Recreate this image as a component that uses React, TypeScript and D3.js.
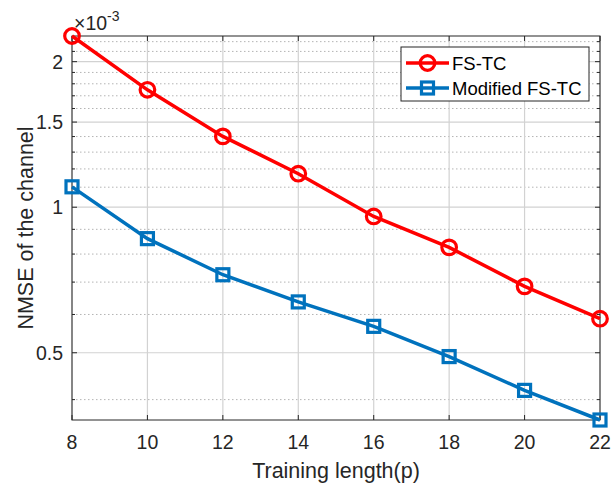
import React, { useEffect, useRef } from "react";
import * as d3 from "d3";

// training length on the x axis
const trainingLength = [8, 10, 12, 14, 16, 18, 20, 22];
// NMSE values, in units of 1e-3
const fsTC = [2.26, 1.749, 1.401, 1.173, 0.957, 0.826, 0.686, 0.588];
const modifiedFsTC = [1.102, 0.861, 0.725, 0.637, 0.567, 0.491, 0.418, 0.363];

const xTicks = [8, 10, 12, 14, 16, 18, 20, 22];
const yTicks = [0.5, 1, 1.5, 2];
const yMinorTicks = [0.4, 0.6, 0.7, 0.8, 0.9, 1.1, 1.2, 1.3, 1.4, 1.6, 1.7, 1.8, 1.9, 2.1, 2.2];
const seriesNames = ["FS-TC", "Modified FS-TC"];

function App() {
  const ref = useRef<SVGSVGElement>(null);

  useEffect(() => {
    const width = 612;
    const height = 484;
    const m = { left: 72, right: 12, top: 36, bottom: 64 };
    const font = "'Liberation Sans', Arial, Helvetica, sans-serif";
    const axisColor = "#262626";

    const svg = d3.select(ref.current);
    svg.selectAll("*").remove();
    svg.attr("width", width).attr("height", height);

    svg.append("rect").attr("width", width).attr("height", height).attr("fill", "#fff");

    const x = d3
      .scaleLinear()
      .domain([d3.min(trainingLength)!, d3.max(trainingLength)!])
      .range([m.left, width - m.right]);

    const yMin = d3.min(modifiedFsTC)!;
    const yMax = d3.max(fsTC)!;
    const y = d3
      .scaleLog()
      .domain([yMin, yMax])
      .range([height - m.bottom, m.top]);

    const [x0, x1] = x.range();
    const [y0, y1] = y.range();

    // minor grid (dotted)
    svg
      .append("g")
      .selectAll("line")
      .data(yMinorTicks)
      .join("line")
      .attr("x1", x0)
      .attr("x2", x1)
      .attr("y1", (d) => y(d))
      .attr("y2", (d) => y(d))
      .attr("stroke", "#b4b4b4")
      .attr("stroke-width", 1)
      .attr("stroke-dasharray", "1.5 2.5");

    // major grid
    const grid = svg.append("g").attr("stroke", "#d2d2d2").attr("stroke-width", 1.2);
    grid
      .selectAll(".gy")
      .data(yTicks)
      .join("line")
      .attr("class", "gy")
      .attr("x1", x0)
      .attr("x2", x1)
      .attr("y1", (d) => y(d))
      .attr("y2", (d) => y(d));
    grid
      .selectAll(".gx")
      .data(xTicks)
      .join("line")
      .attr("class", "gx")
      .attr("x1", (d) => x(d))
      .attr("x2", (d) => x(d))
      .attr("y1", y0)
      .attr("y2", y1);

    // box
    svg
      .append("rect")
      .attr("x", x0)
      .attr("y", y1)
      .attr("width", x1 - x0)
      .attr("height", y0 - y1)
      .attr("fill", "none")
      .attr("stroke", axisColor)
      .attr("stroke-width", 1);

    // tick marks (inside)
    const ticks = svg.append("g").attr("stroke", axisColor).attr("stroke-width", 1);
    xTicks.forEach((t) => {
      ticks.append("line").attr("x1", x(t)).attr("x2", x(t)).attr("y1", y0).attr("y2", y0 - 5);
      ticks.append("line").attr("x1", x(t)).attr("x2", x(t)).attr("y1", y1).attr("y2", y1 + 5);
    });
    yTicks.forEach((t) => {
      ticks.append("line").attr("x1", x0).attr("x2", x0 + 5).attr("y1", y(t)).attr("y2", y(t));
      ticks.append("line").attr("x1", x1).attr("x2", x1 - 5).attr("y1", y(t)).attr("y2", y(t));
    });
    yMinorTicks.forEach((t) => {
      ticks.append("line").attr("x1", x0).attr("x2", x0 + 3).attr("y1", y(t)).attr("y2", y(t));
      ticks.append("line").attr("x1", x1).attr("x2", x1 - 3).attr("y1", y(t)).attr("y2", y(t));
    });

    // tick labels
    svg
      .append("g")
      .selectAll("text")
      .data(xTicks)
      .join("text")
      .attr("x", (d) => x(d))
      .attr("y", y0 + 29)
      .attr("text-anchor", "middle")
      .attr("font-family", font)
      .attr("font-size", 19.5)
      .attr("fill", axisColor)
      .text((d) => d);

    svg
      .append("g")
      .selectAll("text")
      .data(yTicks)
      .join("text")
      .attr("x", x0 - 9)
      .attr("y", (d) => y(d) + 7)
      .attr("text-anchor", "end")
      .attr("font-family", font)
      .attr("font-size", 19.5)
      .attr("fill", axisColor)
      .text((d) => d);

    // exponent label
    const exp = svg
      .append("text")
      .attr("x", x0 + 2)
      .attr("y", y1 - 6)
      .attr("font-family", font)
      .attr("font-size", 19.5)
      .attr("fill", axisColor);
    exp.append("tspan").text("×10");
    exp.append("tspan").attr("font-size", 14).attr("dy", -9).text("-3");

    // axis labels
    svg
      .append("text")
      .attr("x", (x0 + x1) / 2)
      .attr("y", height - 6)
      .attr("text-anchor", "middle")
      .attr("font-family", font)
      .attr("font-size", 21.5)
      .attr("fill", axisColor)
      .text("Training length(p)");

    svg
      .append("text")
      .attr("transform", `translate(33,${(y0 + y1) / 2}) rotate(-90)`)
      .attr("text-anchor", "middle")
      .attr("font-family", font)
      .attr("font-size", 21.5)
      .attr("fill", axisColor)
      .text("NMSE of the channel");

    // series
    const series = [
      { name: seriesNames[0], values: fsTC, color: "#ff0000", marker: "circle" },
      { name: seriesNames[1], values: modifiedFsTC, color: "#0072bd", marker: "square" },
    ];

    const line = d3
      .line<number>()
      .x((_, i) => x(trainingLength[i]))
      .y((d) => y(d));

    const drawMarker = (g: any, cx: number, cy: number, kind: string, color: string) => {
      if (kind === "circle") {
        g.append("circle")
          .attr("cx", cx)
          .attr("cy", cy)
          .attr("r", 7.3)
          .attr("fill", "none")
          .attr("stroke", color)
          .attr("stroke-width", 3.2);
      } else {
        g.append("rect")
          .attr("x", cx - 6)
          .attr("y", cy - 6)
          .attr("width", 12)
          .attr("height", 12)
          .attr("fill", "none")
          .attr("stroke", color)
          .attr("stroke-width", 3.2);
      }
    };

    series.forEach((s) => {
      svg
        .append("path")
        .datum(s.values)
        .attr("d", line)
        .attr("fill", "none")
        .attr("stroke", s.color)
        .attr("stroke-width", 3.5);
      const g = svg.append("g");
      s.values.forEach((v, i) => drawMarker(g, x(trainingLength[i]), y(v), s.marker, s.color));
    });

    // legend
    const lg = svg.append("g").attr("transform", "translate(401,47)");
    lg.append("rect")
      .attr("width", 188)
      .attr("height", 54)
      .attr("fill", "#fff")
      .attr("stroke", axisColor)
      .attr("stroke-width", 1);
    series.forEach((s, i) => {
      const cy = 16 + i * 25;
      lg.append("line")
        .attr("x1", 5)
        .attr("x2", 48)
        .attr("y1", cy)
        .attr("y2", cy)
        .attr("stroke", s.color)
        .attr("stroke-width", 3.5);
      drawMarker(lg, 26.5, cy, s.marker, s.color);
      lg.append("text")
        .attr("x", 51)
        .attr("y", cy + 7)
        .attr("font-family", font)
        .attr("font-size", 18.5)
        .attr("fill", "#000")
        .text(s.name);
    });
  }, []);

  return <svg ref={ref} style={{ display: "block", position: "absolute", left: 0, top: 0 }} />;
}

export default App;
